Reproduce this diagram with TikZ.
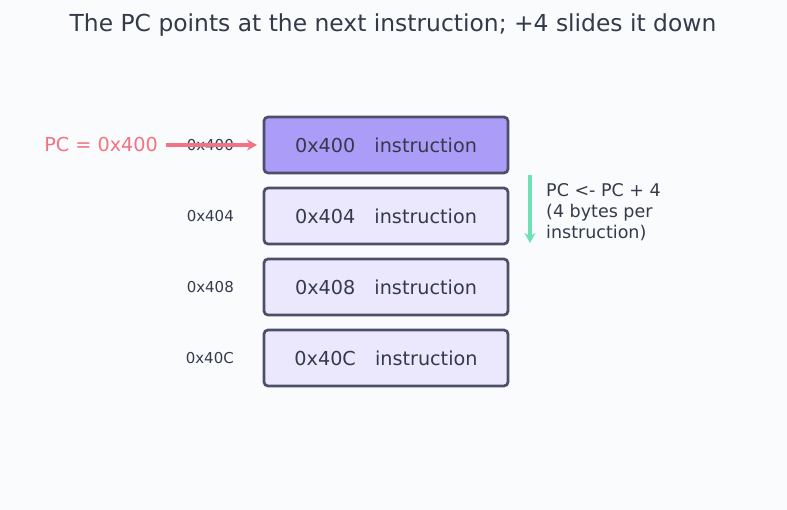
\documentclass[tikz,border=0pt]{standalone}
\usepackage{fontspec}
\setmainfont{DejaVu Sans}
\usetikzlibrary{arrows.meta}
\definecolor{bg}{HTML}{FAFBFD}
\definecolor{txt}{HTML}{343A4A}
\definecolor{edge}{HTML}{4B5068}
\definecolor{hot}{HTML}{AB9CF8}
\definecolor{cold}{HTML}{EBE8FD}
\definecolor{pink}{HTML}{F07484}
\definecolor{mint}{HTML}{6EE2B4}
\tikzset{
  cell/.style={draw=edge, line width=2.7pt, rounded corners=4pt, minimum width=244pt, minimum height=56pt, text=txt, font=\fontsize{19.2}{22}\selectfont, inner sep=0pt},
  addr/.style={anchor=east, text=txt, font=\fontsize{15}{17}\selectfont, inner sep=0pt},
  arr/.style={line width=3.4pt, -{Stealth[length=10pt,width=11pt]}},
}
\begin{document}
\begin{tikzpicture}[x=1pt,y=-1pt]
\fill[bg] (0,0) rectangle (787,510);
\useasboundingbox (0,0) rectangle (787,510);
\node[text=txt, font=\fontsize{23.4}{26}\selectfont] (title) at (393,25) {The PC points at the next instruction; +4 slides it down};
\node[cell, fill=hot] (c0) at (386,145) {0x400\hspace{1em}instruction};
\node[cell, fill=cold] (c1) at (386,216) {0x404\hspace{1em}instruction};
\node[cell, fill=cold] (c2) at (386,287) {0x408\hspace{1em}instruction};
\node[cell, fill=cold] (c3) at (386,358) {0x40C\hspace{1em}instruction};
\node[addr] (a0) at (234,145) {0x400};
\node[addr] (a1) at (234,216) {0x404};
\node[addr] (a2) at (234,287) {0x408};
\node[addr] (a3) at (234,358) {0x40C};
\node[anchor=east, text=pink, font=\fontsize{19.2}{22}\selectfont, inner sep=0pt] (pc) at (158,145) {PC = 0x400};
\coordinate (pcend) at (257,145);
\draw[pink, arr] ([xshift=8pt]pc.east) -- (pcend);
\coordinate (gs) at (530,175);
\coordinate (ge) at (530,243);
\draw[mint, arr] (gs) -- (ge);
\node[anchor=north west, text=txt, font=\fontsize{17.5}{21}\selectfont, align=left, inner sep=0pt] (note) at (546,183) {PC <- PC + 4\\(4 bytes per\\instruction)};
\end{tikzpicture}
\end{document}
